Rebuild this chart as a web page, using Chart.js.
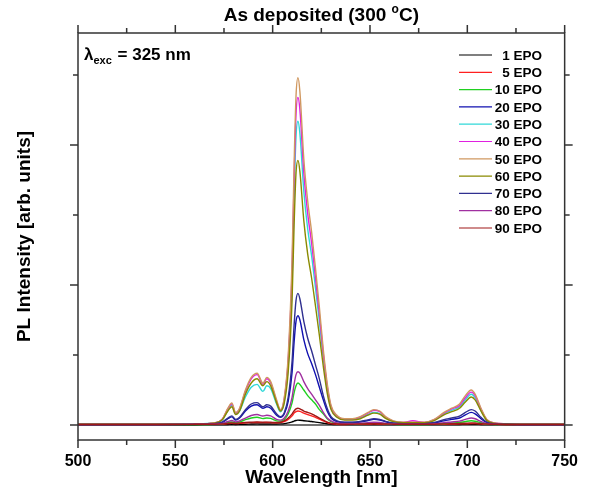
<!DOCTYPE html>
<html>
<head>
<meta charset="utf-8">
<script src="https://cdn.jsdelivr.net/npm/chart.js@4"></script>
<style>
  html, body { margin: 0; padding: 0; background: #fff; }
  #chart { display: block; }
</style>
</head>
<body>
<canvas id="chart" width="590" height="491"></canvas>
<script>
// PL spectra, As deposited (300 C), excitation 325 nm

const wavelength = [500, 520, 540, 560, 570, 574, 577, 579, 581, 583, 586, 589, 592, 595, 597, 599, 602, 604,
  606, 608, 610, 611, 612, 613, 614, 616, 618, 620, 622, 624, 626, 628, 630, 633, 637,
  641, 645, 649, 652, 655, 658, 662, 667, 672, 678, 683, 688, 692, 696, 699, 702, 704, 707, 710, 714, 720, 730, 750];

const epo1 = [0.002,0.002,0.002,0.002,0.003,0.003,0.004,0.005,0.004,0.005,0.006,0.007,0.008,0.007,0.007,0.007,0.007,0.008,
  0.01,0.015,0.022,0.028,0.032,0.035,0.034,0.031,0.028,0.025,0.021,0.017,0.013,0.009,0.006,0.004,0.003,
  0.003,0.003,0.003,0.003,0.003,0.003,0.003,0.003,0.003,0.003,0.003,0.004,0.004,0.004,0.005,0.005,0.005,0.004,0.003,0.003,0.002,0.002,0.002];
const epo5 = [0.004,0.004,0.004,0.005,0.006,0.007,0.01,0.012,0.01,0.012,0.015,0.017,0.018,0.017,0.018,0.017,0.016,0.018,
  0.025,0.04,0.065,0.085,0.095,0.10,0.097,0.085,0.075,0.065,0.055,0.042,0.03,0.018,0.01,0.006,0.004,
  0.005,0.006,0.007,0.008,0.007,0.006,0.005,0.005,0.005,0.005,0.005,0.006,0.007,0.008,0.009,0.01,0.01,0.008,0.006,0.005,0.004,0.004,0.004];
const epo10 = [0.003,0.003,0.003,0.004,0.006,0.01,0.018,0.022,0.016,0.022,0.038,0.05,0.055,0.046,0.05,0.047,0.03,0.028,
  0.04,0.08,0.16,0.23,0.28,0.30,0.29,0.25,0.21,0.18,0.15,0.11,0.08,0.045,0.025,0.012,0.008,
  0.008,0.01,0.013,0.015,0.014,0.009,0.006,0.004,0.004,0.004,0.007,0.011,0.014,0.018,0.025,0.03,0.027,0.016,0.007,0.004,0.003,0.003,0.003];
const epo20 = [0.004,0.004,0.004,0.006,0.009,0.018,0.045,0.058,0.035,0.05,0.10,0.135,0.145,0.12,0.13,0.12,0.07,0.055,
  0.08,0.17,0.38,0.59,0.74,0.78,0.75,0.61,0.51,0.44,0.36,0.27,0.18,0.10,0.05,0.025,0.018,
  0.018,0.022,0.032,0.04,0.036,0.023,0.012,0.009,0.009,0.009,0.015,0.03,0.04,0.05,0.072,0.09,0.08,0.045,0.017,0.007,0.005,0.004,0.004];
const epo30 = [0.005,0.005,0.005,0.008,0.014,0.035,0.105,0.14,0.08,0.10,0.20,0.27,0.29,0.24,0.28,0.26,0.15,0.095,
  0.17,0.43,1.04,1.62,2.06,2.17,2.08,1.67,1.40,1.21,0.98,0.74,0.48,0.26,0.12,0.06,0.04,
  0.04,0.05,0.075,0.09,0.082,0.05,0.025,0.017,0.017,0.017,0.035,0.08,0.105,0.13,0.18,0.22,0.195,0.105,0.035,0.013,0.007,0.005,0.005];
const epo40 = [0.005,0.005,0.005,0.008,0.015,0.04,0.115,0.15,0.085,0.115,0.24,0.33,0.36,0.29,0.33,0.30,0.17,0.105,
  0.19,0.47,1.12,1.75,2.22,2.34,2.25,1.80,1.51,1.30,1.05,0.79,0.51,0.28,0.13,0.065,0.043,
  0.043,0.057,0.085,0.105,0.095,0.057,0.028,0.019,0.03,0.019,0.038,0.085,0.115,0.14,0.195,0.235,0.21,0.115,0.038,0.014,0.008,0.005,0.005];
const epo50 = [0.005,0.005,0.005,0.008,0.015,0.04,0.12,0.157,0.09,0.12,0.25,0.34,0.37,0.30,0.34,0.31,0.18,0.11,
  0.20,0.50,1.20,1.85,2.35,2.48,2.38,1.90,1.60,1.38,1.12,0.84,0.54,0.30,0.14,0.07,0.045,
  0.045,0.06,0.09,0.11,0.10,0.06,0.03,0.02,0.02,0.02,0.04,0.09,0.12,0.15,0.21,0.25,0.22,0.12,0.04,0.015,0.008,0.005,0.005];
const epo60 = [0.005,0.005,0.005,0.007,0.013,0.035,0.10,0.13,0.075,0.10,0.22,0.30,0.33,0.28,0.31,0.28,0.16,0.10,
  0.16,0.38,0.90,1.42,1.80,1.89,1.81,1.46,1.22,1.05,0.85,0.64,0.42,0.23,0.11,0.055,0.035,
  0.035,0.045,0.07,0.085,0.078,0.048,0.024,0.016,0.016,0.016,0.032,0.072,0.095,0.12,0.165,0.20,0.18,0.10,0.033,0.012,0.007,0.005,0.005];
const epo70 = [0.004,0.004,0.004,0.006,0.01,0.02,0.05,0.065,0.04,0.055,0.11,0.15,0.16,0.13,0.145,0.135,0.08,0.06,
  0.09,0.20,0.46,0.71,0.89,0.94,0.90,0.74,0.62,0.53,0.43,0.33,0.21,0.12,0.06,0.03,0.02,
  0.02,0.025,0.037,0.045,0.04,0.026,0.014,0.01,0.01,0.01,0.018,0.038,0.05,0.063,0.09,0.11,0.10,0.055,0.02,0.008,0.005,0.004,0.004];
const epo80 = [0.003,0.003,0.003,0.005,0.007,0.012,0.025,0.032,0.022,0.03,0.05,0.068,0.075,0.064,0.07,0.065,0.04,0.035,
  0.05,0.10,0.20,0.29,0.36,0.38,0.37,0.31,0.26,0.22,0.18,0.14,0.09,0.05,0.03,0.015,0.01,
  0.01,0.013,0.017,0.02,0.018,0.012,0.007,0.005,0.005,0.005,0.009,0.017,0.022,0.028,0.04,0.05,0.045,0.025,0.01,0.005,0.003,0.003,0.003];
const epo90 = [0.004,0.004,0.004,0.005,0.006,0.008,0.012,0.014,0.012,0.014,0.018,0.02,0.022,0.02,0.021,0.02,0.018,0.02,
  0.03,0.05,0.08,0.10,0.115,0.12,0.115,0.10,0.09,0.08,0.065,0.05,0.035,0.02,0.012,0.008,0.005,
  0.006,0.007,0.009,0.01,0.009,0.007,0.006,0.005,0.005,0.005,0.006,0.008,0.009,0.011,0.013,0.015,0.014,0.01,0.007,0.005,0.004,0.004,0.004];

const seriesLabels = ['1 EPO', '5 EPO', '10 EPO', '20 EPO', '30 EPO', '40 EPO', '50 EPO', '60 EPO', '70 EPO', '80 EPO', '90 EPO'];
const seriesValues = [epo1, epo5, epo10, epo20, epo30, epo40, epo50, epo60, epo70, epo80, epo90];
const seriesColors = ['#000000', '#ff2020', '#20d020', '#1010b0', '#30d8d8', '#e020e0', '#d09860', '#8a8a00', '#303090', '#a030a0', '#a01818'];

const xMajorTicks = [500, 550, 600, 650, 700, 750];
const xMinorTicks = [525, 575, 625, 675, 725];
const yMajorTicks = [0, 1, 2];
const yMinorTicks = [0.5, 1.5, 2.5];

const FONT = '"Liberation Sans", Arial, sans-serif';

// later series drawn on top, like the original plot
const datasets = seriesLabels.map((label, i) => ({
  label: label,
  data: wavelength.map((w, j) => ({ x: w, y: seriesValues[i][j] })),
  borderColor: seriesColors[i],
  borderWidth: 1.4,
  pointRadius: 0,
  fill: false,
  order: seriesLabels.length - i,
  cubicInterpolationMode: 'monotone'
}));

// frame, ticks, zero line, title, annotation, legend
const decor = {
  id: 'decor',
  beforeDatasetsDraw(chart) {
    const { ctx, chartArea: a, scales: { y } } = chart;
    const y0 = y.getPixelForValue(0);
    ctx.save();
    ctx.strokeStyle = '#444';
    ctx.lineWidth = 1.5;
    ctx.beginPath();
    ctx.moveTo(a.left, y0);
    ctx.lineTo(a.right, y0);
    ctx.stroke();
    ctx.restore();
  },
  afterDraw(chart) {
    const { ctx, chartArea: a, scales: { x, y } } = chart;
    ctx.save();
    ctx.strokeStyle = '#333';
    ctx.lineWidth = 1.5;
    ctx.strokeRect(a.left, a.top, a.right - a.left, a.bottom - a.top);

    ctx.beginPath();
    const xt = (v, len) => {
      const px = x.getPixelForValue(v);
      ctx.moveTo(px, a.bottom); ctx.lineTo(px, a.bottom + len);
      ctx.moveTo(px, a.top); ctx.lineTo(px, a.top - len);
    };
    const yt = (v, len) => {
      const py = y.getPixelForValue(v);
      ctx.moveTo(a.left, py); ctx.lineTo(a.left - len, py);
      ctx.moveTo(a.right, py); ctx.lineTo(a.right + len, py);
    };
    xMajorTicks.forEach(v => xt(v, 8));
    xMinorTicks.forEach(v => xt(v, 5));
    yMajorTicks.forEach(v => yt(v, 8));
    yMinorTicks.forEach(v => yt(v, 5));
    ctx.stroke();

    // title
    ctx.fillStyle = '#000';
    ctx.textBaseline = 'alphabetic';
    const t1 = 'As deposited (300 ', t2 = 'o', t3 = 'C)';
    ctx.font = 'bold 19px ' + FONT;
    const w1 = ctx.measureText(t1).width, w3 = ctx.measureText(t3).width;
    ctx.font = 'bold 12px ' + FONT;
    const w2 = ctx.measureText(t2).width;
    let tx = (a.left + a.right) / 2 - (w1 + w2 + w3) / 2;
    const ty = 21;
    ctx.font = 'bold 19px ' + FONT;
    ctx.textAlign = 'left';
    ctx.fillText(t1, tx, ty); tx += w1;
    ctx.font = 'bold 12px ' + FONT;
    ctx.fillText(t2, tx, ty - 8); tx += w2;
    ctx.font = 'bold 19px ' + FONT;
    ctx.fillText(t3, tx, ty);

    // excitation annotation
    let ax = 84; const ay = 60;
    ctx.font = 'bold 17px ' + FONT;
    ctx.fillText('\u03bb', ax, ay); ax += ctx.measureText('\u03bb').width;
    ctx.font = 'bold 11px ' + FONT;
    ctx.fillText('exc', ax, ay + 4); ax += ctx.measureText('exc').width + 1;
    ctx.font = 'bold 17px ' + FONT;
    ctx.fillText(' = 325 nm', ax, ay);

    // legend
    ctx.font = 'bold 13.5px ' + FONT;
    ctx.textAlign = 'right';
    ctx.textBaseline = 'middle';
    chart.data.datasets.forEach((ds, i) => {
      const ly = 55 + i * 17.3;
      ctx.strokeStyle = ds.borderColor;
      ctx.lineWidth = 1.2;
      ctx.beginPath();
      ctx.moveTo(459, ly); ctx.lineTo(492, ly);
      ctx.stroke();
      ctx.fillStyle = '#000';
      ctx.fillText(ds.label, 542, ly + 1);
    });
    ctx.restore();
  }
};

new Chart(document.getElementById('chart'), {
  type: 'line',
  data: { datasets: datasets },
  options: {
    responsive: false,
    animation: false,
    layout: { padding: { top: 33, right: 23, left: 0, bottom: 0 } },
    plugins: { legend: { display: false }, tooltip: { enabled: false } },
    scales: {
      x: {
        type: 'linear',
        min: 500,
        max: 750,
        grid: { display: false, drawTicks: false },
        border: { display: false },
        ticks: { stepSize: 50, color: '#000', padding: 12, font: { family: FONT, size: 16, weight: 'bold' } },
        title: { display: true, text: 'Wavelength [nm]', color: '#000', padding: { top: 0, bottom: 2 }, font: { family: FONT, size: 19, weight: 'bold' } },
        afterFit: s => { s.height = 51; }
      },
      y: {
        min: -0.107,
        max: 2.8,
        grid: { display: false, drawTicks: false },
        border: { display: false },
        ticks: { display: false },
        title: { display: true, text: 'PL Intensity [arb. units]', color: '#000', padding: { top: 13, bottom: 0 }, font: { family: FONT, size: 19, weight: 'bold' } },
        afterFit: s => { s.width = 78; }
      }
    }
  },
  plugins: [decor]
});
</script>
</body>
</html>
